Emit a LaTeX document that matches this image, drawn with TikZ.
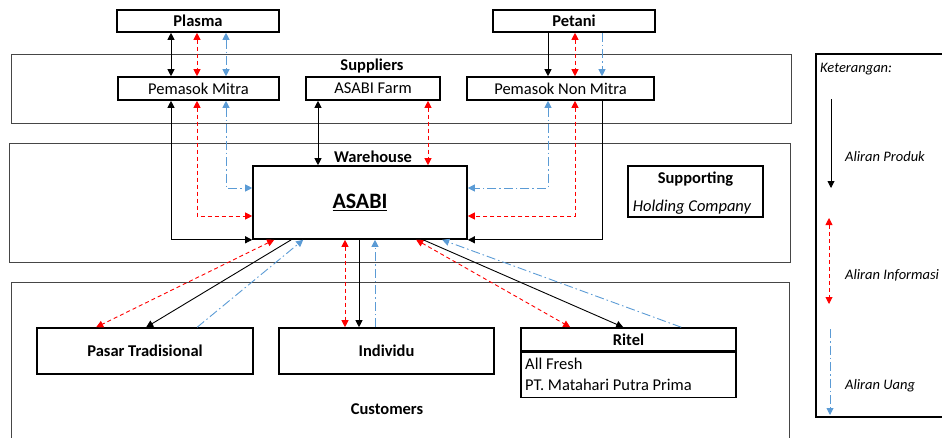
\documentclass[tikz,border=0pt]{standalone}
\usepackage{fontspec}
\setmainfont{Carlito}
\usetikzlibrary{arrows.meta}
\definecolor{infored}{RGB}{255,0,0}
\definecolor{moneyblue}{RGB}{91,155,213}
\definecolor{framegray}{RGB}{70,70,70}

\begin{document}
\begin{tikzpicture}[x=1pt,y=-1pt,
  >={Triangle[length=7pt,width=7pt]},
  txt/.style={font=\fontsize{16.5}{18}\selectfont, inner sep=0pt},
  btxt/.style={font=\fontsize{16.5}{18}\selectfont\bfseries, inner sep=0pt},
  ltxt/.style={font=\fontsize{14.5}{16}\selectfont\itshape, inner sep=0pt, anchor=west},
  box/.style={draw, line width=1.6pt, inner sep=0pt, font=\fontsize{16.5}{18}\selectfont},
  frame/.style={draw=framegray, line width=1pt},
  prod/.style={draw=black, line width=0.9pt},
  info/.style={draw=infored, line width=0.9pt, dash pattern=on 4pt off 3pt},
  money/.style={draw=moneyblue, line width=0.9pt, dash pattern=on 9pt off 3pt on 1.5pt off 3pt},
]
\useasboundingbox (0,0) rectangle (942,437);

% ---- group frames ----
\draw[frame] (11,54) rectangle (791,123);
\draw[frame] (9,143) rectangle (790,262);
\draw[frame] (11,440) -- (11,282) -- (789,282) -- (789,440);
\node[btxt] (lblsup) at (372,66) {Suppliers};
\node[btxt] (lblwh) at (373,157) {Warehouse};
\node[btxt] (lblcus) at (387,409) {Customers};

% ---- supplier side ----
\node[box, minimum width=162pt, minimum height=22pt, font=\fontsize{16.5}{18}\selectfont\bfseries] (plasma) at (198,21) {Plasma};
\node[box, minimum width=162pt, minimum height=22pt, font=\fontsize{16.5}{18}\selectfont\bfseries] (petani) at (574,21) {Petani};
\node[box, minimum width=161pt, minimum height=23pt] (pm) at (198.5,88.5) {Pemasok Mitra};
\node[box, minimum width=134pt, minimum height=23pt] (farm) at (373,88.5) {ASABI Farm};
\node[box, minimum width=187pt, minimum height=23pt] (pnm) at (560.5,88.5) {Pemasok Non Mitra};

% ---- warehouse ----
\node[box, minimum width=214pt, minimum height=73pt, font=\fontsize{22}{24}\selectfont\bfseries] (asabi) at (360,202.5) {\underline{ASABI}};
\node[box, minimum width=135pt, minimum height=51pt] (supp) at (695.5,191.5) {};
\node[btxt] (supphead) at (695.5,179) {Supporting};
\node[txt, font=\fontsize{16.5}{18}\selectfont\itshape] (suppbody) at (692,207) {Holding Company};

% ---- customers ----
\node[box, minimum width=216pt, minimum height=46pt, font=\fontsize{16.5}{18}\selectfont\bfseries] (pasar) at (145,351) {Pasar Tradisional};
\node[box, minimum width=215pt, minimum height=46pt, font=\fontsize{16.5}{18}\selectfont\bfseries] (indiv) at (386.5,351) {Individu};
\node[box, minimum width=215pt, minimum height=23pt, font=\fontsize{16.5}{18}\selectfont\bfseries] (ritel) at (628.5,339.5) {Ritel};
\node[box, minimum width=215pt, minimum height=45pt, anchor=north] (ritelbody) at (ritel.south) {};
\node[txt, anchor=west] (ritelA) at (525,364) {All Fresh};
\node[txt, anchor=west] (ritelB) at (525,385) {PT. Matahari Putra Prima};

% ---- column and row guides ----
\coordinate (cA) at (171,0);
\coordinate (cB) at (197,0);
\coordinate (cC) at (226,0);
\coordinate (cD) at (318,0);
\coordinate (cE) at (428,0);
\coordinate (cF) at (548,0);
\coordinate (cG) at (575,0);
\coordinate (cH) at (602,0);
\coordinate (cI) at (345,0);
\coordinate (cJ) at (359,0);
\coordinate (cK) at (375,0);
\coordinate (rBlue) at (0,188);
\coordinate (rRed) at (0,216);

% ---- Plasma / Petani to suppliers ----
\draw[prod,<->] (plasma.south -| cA) -- (pm.north -| cA);
\draw[info,<->] (plasma.south -| cB) -- (pm.north -| cB);
\draw[money,<->] (plasma.south -| cC) -- (pm.north -| cC);
\draw[prod,->] (petani.south -| cF) -- (pnm.north -| cF);
\draw[info,<->] (petani.south -| cG) -- (pnm.north -| cG);
\draw[money,->] (petani.south -| cH) -- (pnm.north -| cH);

% ---- suppliers to ASABI ----
\draw[prod,<->] (pm.south -| cA) |- (asabi.south west);
\draw[info,<->] (pm.south -| cB) |- (asabi.west |- rRed);
\draw[money,<->] (pm.south -| cC) |- (asabi.west |- rBlue);
\draw[prod,<->] (farm.south -| cD) -- (asabi.north -| cD);
\draw[info,<->] (farm.south -| cE) -- (asabi.north -| cE);
\draw[prod,->] (pnm.south -| cH) |- (asabi.south east);
\draw[info,<->] (pnm.south -| cG) |- (asabi.east |- rRed);
\draw[money,<->] (pnm.south -| cF) |- (asabi.east |- rBlue);

% ---- ASABI to customers ----
\draw[info,<->] ([xshift=22pt]asabi.south west) -- ([xshift=60pt]pasar.north west);
\draw[prod,->] ([xshift=39pt]asabi.south west) -- ([xshift=110pt]pasar.north west);
\draw[money,->] ([xshift=161pt]pasar.north west) -- ([xshift=51pt]asabi.south west);
\draw[info,<->] (asabi.south -| cI) -- (indiv.north -| cI);
\draw[prod,->] (asabi.south -| cJ) -- (indiv.north -| cJ);
\draw[money,->] (indiv.north -| cK) -- (asabi.south -| cK);
\draw[info,<->] ([xshift=164pt]asabi.south west) -- ([xshift=50pt]ritel.north west);
\draw[prod,->] ([xshift=171pt]asabi.south west) -- ([xshift=103pt]ritel.north west);
\draw[money,->] ([xshift=161pt]ritel.north west) -- ([xshift=190pt]asabi.south west);

% ---- legend ----
\draw[line width=1.8pt] (943,54) -- (816,54) -- (816,417) -- (943,417);
\node[ltxt] (legtitle) at (820,69) {Keterangan:};
\coordinate (lpA) at (831,99);
\coordinate (lpB) at (831,188);
\coordinate (liA) at (829,218);
\coordinate (liB) at (829,304);
\coordinate (lmA) at (830,329);
\coordinate (lmB) at (830,415);
\draw[prod,->] (lpA) -- (lpB);
\draw[info,<->] (liA) -- (liB);
\draw[money,->] (lmA) -- (lmB);
\node[ltxt] (legprod) at (845,157) {Aliran Produk};
\node[ltxt] (leginfo) at (845,275) {Aliran Informasi};
\node[ltxt] (legmoney) at (845,386) {Aliran Uang};
\end{tikzpicture}
\end{document}
